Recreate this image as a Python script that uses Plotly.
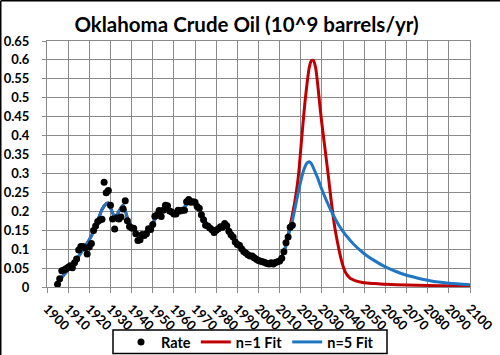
import plotly.graph_objects as go

# ---- data ----
rate_years = list(range(1905, 2017))
rate_vals = [
    0.007, 0.022, 0.043, 0.045, 0.048, 0.052, 0.056, 0.051, 0.064, 0.074,  # 1905-1914
    0.098, 0.107, 0.107, 0.103, 0.087, 0.106, 0.115, 0.149, 0.161, 0.173,  # 1915-1924
    0.177, 0.179, 0.277, 0.249, 0.255, 0.216, 0.180, 0.153, 0.182, 0.180,  # 1925-1934
    0.185, 0.206, 0.228, 0.175, 0.160, 0.156, 0.155, 0.141, 0.123, 0.125,  # 1935-1944
    0.139, 0.136, 0.141, 0.154, 0.152, 0.165, 0.187, 0.190, 0.202, 0.186,  # 1945-1954
    0.203, 0.216, 0.215, 0.201, 0.198, 0.193, 0.193, 0.203, 0.201, 0.203,  # 1955-1964
    0.203, 0.225, 0.231, 0.224, 0.225, 0.224, 0.213, 0.208, 0.191, 0.178,  # 1965-1974
    0.163, 0.161, 0.156, 0.151, 0.144, 0.150, 0.154, 0.159, 0.158, 0.168,  # 1975-1984
    0.162, 0.147, 0.138, 0.132, 0.119, 0.112, 0.110, 0.101, 0.094, 0.090,  # 1985-1994
    0.085, 0.082, 0.082, 0.077, 0.073, 0.070, 0.068, 0.067, 0.065, 0.062,  # 1995-2004
    0.061, 0.064, 0.061, 0.065, 0.067, 0.069, 0.076, 0.093, 0.117, 0.132,  # 2005-2014
    0.158, 0.163,                                                          # 2015-2016
]

hist_fit_years = [1904, 1905, 1908, 1910, 1912, 1914, 1916, 1918, 1920, 1922, 1924, 1926,
                  1928, 1929, 1930, 1931, 1932, 1933, 1934, 1935, 1936, 1937, 1938, 1939,
                  1940, 1942, 1944, 1946, 1948, 1950, 1952, 1954, 1956, 1958, 1960, 1962,
                  1964, 1966, 1968, 1970, 1972, 1974, 1976, 1978, 1980, 1982, 1984, 1986,
                  1988, 1990, 1992, 1994, 1996, 1998, 2000, 2002, 2004, 2006, 2008, 2010, 2012]
hist_fit_vals = [0.004, 0.012, 0.032, 0.045, 0.058, 0.072, 0.090, 0.108, 0.125, 0.147, 0.175, 0.205,
                 0.220, 0.222, 0.210, 0.196, 0.186, 0.190, 0.200, 0.210, 0.216, 0.202, 0.182, 0.170,
                 0.160, 0.145, 0.135, 0.138, 0.152, 0.168, 0.188, 0.198, 0.205, 0.200, 0.195, 0.200,
                 0.205, 0.218, 0.224, 0.218, 0.205, 0.183, 0.163, 0.152, 0.151, 0.157, 0.162, 0.150,
                 0.133, 0.114, 0.101, 0.090, 0.082, 0.076, 0.070, 0.066, 0.063, 0.063, 0.066, 0.073, 0.092]

n1_years = [2013, 2014, 2015, 2016, 2017, 2018, 2019, 2020, 2021, 2022, 2023, 2024, 2025, 2026,
            2027, 2028, 2029, 2030, 2031, 2032, 2033, 2034, 2035, 2036, 2037, 2038, 2039, 2040,
            2041, 2042, 2043, 2044, 2046, 2048, 2050, 2055, 2060, 2070, 2080, 2090, 2100]
n1_vals = [0.112, 0.137, 0.162, 0.190, 0.220, 0.255, 0.300, 0.365, 0.430, 0.490, 0.540, 0.580, 0.598, 0.598,
           0.580, 0.535, 0.480, 0.430, 0.385, 0.340, 0.295, 0.245, 0.200, 0.160, 0.128, 0.100, 0.075, 0.055,
           0.040, 0.031, 0.025, 0.021, 0.016, 0.013, 0.011, 0.009, 0.007, 0.005, 0.004, 0.003, 0.002]

n5_years = [2013, 2014, 2015, 2016, 2017, 2018, 2019, 2020, 2021, 2022, 2023, 2024, 2025, 2026,
            2027, 2028, 2029, 2030, 2032, 2034, 2036, 2038, 2040, 2042, 2045, 2050, 2055, 2060,
            2065, 2070, 2075, 2080, 2085, 2090, 2095, 2100]
n5_vals = [0.110, 0.133, 0.155, 0.175, 0.200, 0.228, 0.255, 0.280, 0.302, 0.318, 0.328, 0.331, 0.326, 0.314,
           0.301, 0.288, 0.272, 0.257, 0.230, 0.205, 0.183, 0.163, 0.146, 0.132, 0.113, 0.088, 0.069, 0.053,
           0.041, 0.031, 0.024, 0.018, 0.013, 0.010, 0.008, 0.006]

x_ticks = list(range(1900, 2101, 10))
x_tick_labels = [str(v) for v in x_ticks]
y_ticks = [0, 0.05, 0.1, 0.15, 0.2, 0.25, 0.3, 0.35, 0.4, 0.45, 0.5, 0.55, 0.6, 0.65]
y_tick_labels = ["0", "0.05", "0.1", "0.15", "0.2", "0.25", "0.3", "0.35", "0.4", "0.45",
                 "0.5", "0.55", "0.6", "0.65"]

title_text = "Oklahoma Crude Oil (10^9 barrels/yr)"

# ---- figure ----
FONT = "Lato, 'Liberation Sans', Arial, sans-serif"
W, H = 500, 355
ML, MR, MT, MB = 47, 30, 41, 68
GRID = "#8a8a8a"
pw, ph = W - ML - MR, H - MT - MB


def px_x(px):
    return (px - ML) / pw


def px_y(py):
    return (H - MB - py) / ph


fig = go.Figure()
fig.add_trace(go.Scatter(
    x=hist_fit_years + n1_years, y=hist_fit_vals + n1_vals, mode="lines",
    name="n=1 Fit", line=dict(color="#c00000", width=3, shape="spline", smoothing=0.6),
    legendrank=2))
fig.add_trace(go.Scatter(
    x=hist_fit_years + n5_years, y=hist_fit_vals + n5_vals, mode="lines",
    name="n=5 Fit", line=dict(color="#1f77c4", width=3, shape="spline", smoothing=0.6),
    legendrank=3))
fig.add_trace(go.Scatter(
    x=rate_years, y=rate_vals, mode="markers", name="Rate",
    marker=dict(color="black", size=7), legendrank=1))

fig.update_layout(
    width=W, height=H,
    margin=dict(l=ML, r=MR, t=MT, b=MB, pad=0, autoexpand=False),
    paper_bgcolor="white", plot_bgcolor="white",
    font=dict(family=FONT, color="black", size=13, weight="bold"),
    title=dict(text=title_text, x=0.493, xanchor="center", y=1 - 25 / H, yanchor="middle",
               automargin=False,
               font=dict(family=FONT, size=20.5, color="black", weight="bold")),
    showlegend=True,
    legend=dict(orientation="h", x=px_x(250), xanchor="center",
                y=px_y(342), yanchor="middle",
                borderwidth=0, bgcolor="rgba(0,0,0,0)",
                font=dict(family=FONT, size=14.5, color="black", weight="bold"),
                traceorder="normal"),
    xaxis=dict(range=[1900, 2100], tickmode="array", tickvals=x_ticks, ticktext=x_tick_labels,
               tickangle=45, showgrid=True, gridcolor=GRID, gridwidth=1, automargin=False,
               showline=True, linecolor=GRID, linewidth=1, mirror=True,
               ticks="outside", ticklen=5, tickcolor=GRID, zeroline=False,
               ticklabelstandoff=3,
               tickfont=dict(family=FONT, size=13, color="black", weight="bold")),
    yaxis=dict(range=[0, 0.65], tickmode="array", tickvals=y_ticks, ticktext=y_tick_labels,
               showgrid=True, gridcolor=GRID, gridwidth=1, automargin=False,
               showline=True, linecolor=GRID, linewidth=1, mirror=True,
               ticks="outside", ticklen=4, tickcolor=GRID, zeroline=False,
               ticklabelstandoff=10,
               tickfont=dict(family=FONT, size=13, color="black", weight="bold")),
)

# legend frame (box from about x 113-387, y 330-354 in the reference)
fig.add_shape(type="rect", xref="paper", yref="paper",
              x0=px_x(113), x1=px_x(387), y0=px_y(353.5), y1=px_y(330),
              line=dict(color="black", width=1.5), fillcolor="rgba(0,0,0,0)")

# outer chart border (top and left edges visible in the reference)
x_left = px_x(0.75)
y_top = px_y(0.75)
fig.add_shape(type="line", xref="paper", yref="paper", x0=x_left, x1=px_x(W),
              y0=y_top, y1=y_top, line=dict(color="black", width=1.5))
fig.add_shape(type="line", xref="paper", yref="paper", x0=x_left, x1=x_left,
              y0=px_y(H), y1=y_top, line=dict(color="black", width=1.5))

fig.write_html("out.html", config={"displayModeBar": False},
               post_script="document.body.style.margin='0';")
